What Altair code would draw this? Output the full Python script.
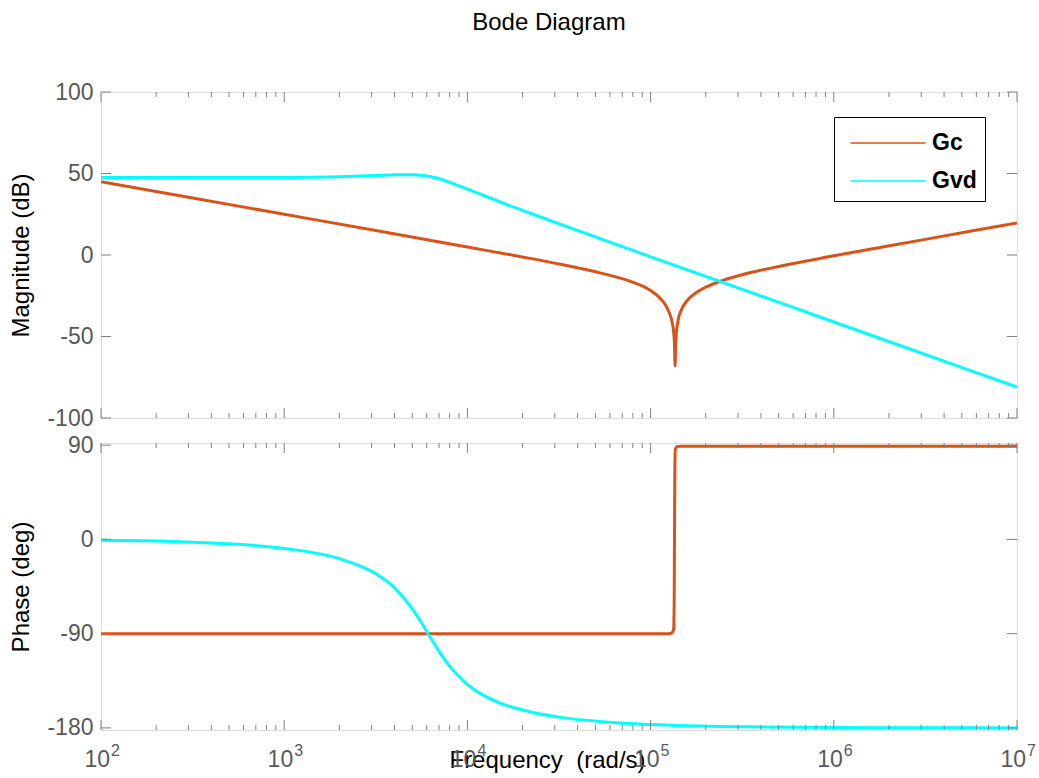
import altair as alt
import pandas as pd

# ---------------- data ----------------
series_names = ["Gc", "Gvd"]
series_colors = ["#D95319", "#00FFFF"]

# Gc magnitude (frequency rad/s, dB)
gc_mag_freq = [100, 316.2, 1000, 3162, 10000, 19953, 31623, 50119, 63096, 79433,
               100000, 112202, 120226, 125893, 131826, 133352, 134896, 136000,
               137088, 138038, 141254, 147911, 158489, 177828, 199526, 251189,
               316228, 501187, 1000000, 3162278, 10000000]
gc_mag_db = [45.0, 35.0, 25.0, 15.0, 4.9, -1.2, -5.5, -10.3, -13.1, -16.6,
             -21.8, -26.3, -30.5, -35.0, -42.5, -46.5, -54.0, -68.0,
             -53.6, -48.3, -40.0, -33.2, -27.9, -23.0, -19.8, -15.4,
             -12.1, -7.0, -0.5, 9.6, 19.7]

# Gc phase (frequency rad/s, deg)
gc_ph_freq = [100, 125000, 131000, 133500, 134500, 135000, 135500, 136500,
              139000, 145000, 10000000]
gc_ph_deg = [-90, -90, -89, -86, -60, 0, 60, 86, 88.5, 89, 89]

# Gvd magnitude / phase
gvd_freq = [100, 316.2, 1000, 1995, 3162, 3981, 5012, 5623, 6310, 7079, 7943,
            10000, 12589, 15849, 22387, 31623, 56234, 100000, 316228, 1000000,
            3162278, 10000000]
gvd_mag_db = [47.5, 47.5, 47.6, 48.0, 48.7, 49.2, 49.3, 48.9, 48.0, 46.6, 44.7,
              40.4, 36.0, 31.6, 25.3, 19.1, 9.0, -1.1, -21.1, -41.1,
              -61.1, -81.1]
gvd_ph_deg = [-0.8, -2.7, -8.7, -18.4, -32.9, -46.0, -66.6, -79.9, -94.4, -108.3,
              -120.5, -138.6, -150.1, -157.7, -165.0, -169.7, -174.3, -176.8,
              -179.0, -179.7, -179.9, -180.0]

# ticks / labels
x_major = [1e2, 1e3, 1e4, 1e5, 1e6, 1e7]
x_exponents = ["2", "3", "4", "5", "6", "7"]
x_minor = [k * 10 ** d for d in range(2, 7) for k in range(2, 10)]
mag_ticks = [-100, -50, 0, 50, 100]
ph_ticks = [-180, -90, 0, 90]

# ---------------- layout / style ----------------
W = 916
H1 = 326
H2 = 287
FONT = "Liberation Sans"
GRAY = "#808080"
LABEL = "#595959"

mag_df = pd.concat([
    pd.DataFrame({"freq": gc_mag_freq, "value": gc_mag_db, "series": "Gc", "o": range(len(gc_mag_freq))}),
    pd.DataFrame({"freq": gvd_freq, "value": gvd_mag_db, "series": "Gvd", "o": range(len(gvd_freq))}),
])
ph_df = pd.concat([
    pd.DataFrame({"freq": gc_ph_freq, "value": gc_ph_deg, "series": "Gc", "o": range(len(gc_ph_freq))}),
    pd.DataFrame({"freq": gvd_freq, "value": gvd_ph_deg, "series": "Gvd", "o": range(len(gvd_freq))}),
])

xscale = alt.Scale(type="log", domain=[1e2, 1e7], nice=False)
major_df = pd.DataFrame({"v": x_major, "base": "10", "exp": x_exponents})
minor_df = pd.DataFrame({"v": x_minor})


def yaxis(title, vals):
    return alt.Axis(values=vals, title=title, ticks=False, domain=False, grid=False,
                    labelExpr="'' + datum.value",
                    labelPadding=8, labelFontSize=23, labelColor=LABEL, labelFont=FONT,
                    titleFontSize=24, titleFontWeight="normal", titleColor="black",
                    titleFont=FONT, titlePadding=13)


def tick_layers(height, yvals, ydomain, xaxis, yax):
    yscale = alt.Scale(domain=ydomain, nice=False, zero=False)
    ydf = pd.DataFrame({"v": yvals})
    layers = []
    for d, L in ((major_df, 10), (minor_df, 5)):
        base = alt.Chart(d).mark_rule(color=GRAY, strokeWidth=1)
        layers.append(base.encode(x=alt.X("v:Q", scale=xscale, axis=xaxis),
                                  y=alt.value(height), y2=alt.value(height - L)))
        layers.append(base.encode(x=alt.X("v:Q", scale=xscale, axis=xaxis),
                                  y=alt.value(0), y2=alt.value(L)))
    ybase = alt.Chart(ydf).mark_rule(color=GRAY, strokeWidth=1)
    layers.append(ybase.encode(y=alt.Y("v:Q", scale=yscale, axis=yax),
                               x=alt.value(0), x2=alt.value(10)))
    layers.append(ybase.encode(y=alt.Y("v:Q", scale=yscale, axis=yax),
                               x=alt.value(W - 10), x2=alt.value(W)))
    return layers


color_scale = alt.Scale(domain=series_names, range=series_colors)

# ---------- top panel: magnitude ----------
mag_yaxis = yaxis("Magnitude (dB)", mag_ticks)
mag_lines = alt.Chart(mag_df).mark_line(strokeWidth=3, interpolate="monotone", clip=True).encode(
    x=alt.X("freq:Q", scale=xscale, axis=None),
    y=alt.Y("value:Q", scale=alt.Scale(domain=[-100, 100], nice=False, zero=False),
            axis=mag_yaxis),
    color=alt.Color("series:N", scale=color_scale,
                    legend=alt.Legend(title=None, orient="none", legendX=733, legendY=25,
                                      symbolType="M-0.559,0H3.853", symbolSize=1156,
                                      symbolStrokeWidth=1.5, labelFontSize=23,
                                      labelFontWeight="bold", labelFont=FONT,
                                      labelColor="black", labelOffset=54, padding=8,
                                      rowPadding=8, strokeColor="black", fillColor="white")),
    order="o:Q",
)
top = alt.layer(mag_lines, *tick_layers(H1, mag_ticks, [-100, 100], None, mag_yaxis)).properties(
    width=W, height=H1)

# ---------- bottom panel: phase ----------
ph_xaxis = alt.Axis(title="Frequency\u00a0 (rad/s)", labels=False, ticks=False,
                    domain=False, grid=False, titleFontSize=24,
                    titleFontWeight="normal", titleColor="black", titleFont=FONT,
                    titlePadding=18, titleX=446)
ph_yaxis = yaxis("Phase (deg)", ph_ticks)
ph_lines = alt.Chart(ph_df).mark_line(strokeWidth=3, interpolate="monotone", clip=True).encode(
    x=alt.X("freq:Q", scale=xscale, axis=ph_xaxis),
    y=alt.Y("value:Q", scale=alt.Scale(domain=[-182, 92], nice=False, zero=False),
            axis=ph_yaxis),
    color=alt.Color("series:N", scale=color_scale, legend=None),
    order="o:Q",
)
lab10 = alt.Chart(major_df).mark_text(align="right", baseline="alphabetic", dx=9,
                                      fontSize=23, font=FONT, color=LABEL).encode(
    x=alt.X("v:Q", scale=xscale, axis=ph_xaxis), y=alt.value(H2 + 37), text="base:N")
labexp = alt.Chart(major_df).mark_text(align="left", baseline="alphabetic", dx=10,
                                       fontSize=16, font=FONT, color=LABEL).encode(
    x=alt.X("v:Q", scale=xscale, axis=ph_xaxis), y=alt.value(H2 + 26), text="exp:N")

bottom = alt.layer(ph_lines, *tick_layers(H2, ph_ticks, [-182, 92], ph_xaxis, ph_yaxis),
                   lab10, labexp).properties(width=W, height=H2)

chart = alt.vconcat(top, bottom, spacing=25, bounds="flush").resolve_scale(
    y="independent", color="independent"
).properties(
    title=alt.TitleParams("Bode Diagram", fontSize=24, fontWeight="normal", font=FONT,
                          color="black", anchor="middle", offset=46, dx=26),
    padding={"left": 9, "top": 10, "right": 2, "bottom": 2},
).configure_view(stroke=GRAY, strokeWidth=1).configure(background="white")

chart.save("out.html", embed_options={"renderer": "svg", "actions": False})
